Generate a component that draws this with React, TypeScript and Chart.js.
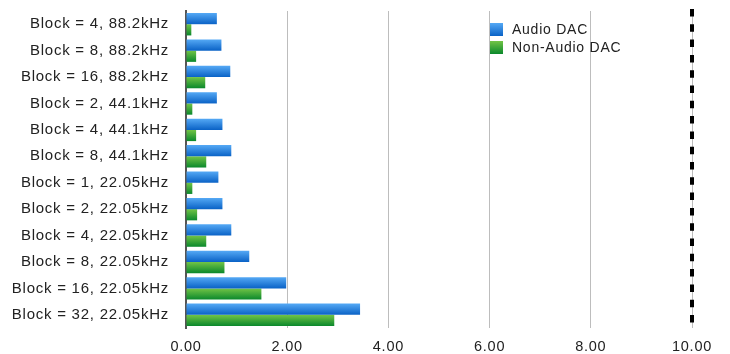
import React, { useEffect, useRef } from "react";
import { Chart, registerables } from "chart.js";

Chart.register(...registerables);

const categories = [
  "Block = 4, 88.2kHz",
  "Block = 8, 88.2kHz",
  "Block = 16, 88.2kHz",
  "Block = 2, 44.1kHz",
  "Block = 4, 44.1kHz",
  "Block = 8, 44.1kHz",
  "Block = 1, 22.05kHz",
  "Block = 2, 22.05kHz",
  "Block = 4, 22.05kHz",
  "Block = 8, 22.05kHz",
  "Block = 16, 22.05kHz",
  "Block = 32, 22.05kHz",
];
const audioDac = [0.61, 0.7, 0.875, 0.61, 0.72, 0.895, 0.64, 0.72, 0.895, 1.25, 1.98, 3.44];
const nonAudioDac = [0.105, 0.2, 0.38, 0.125, 0.2, 0.4, 0.125, 0.22, 0.4, 0.76, 1.49, 2.93];
const seriesNames = ["Audio DAC", "Non-Audio DAC"];
const xTicks = [0, 2, 4, 6, 8, 10];
const limitValue = 10;

const FONT = "'Liberation Sans', Arial, Helvetica, sans-serif";
const SPACING = "0.75px";
const CAT_PCT = 0.85;
const gradStops = [
  ["#55a9f5", "#0a62c6"],
  ["#72c446", "#0a882c"],
];

export default function App() {
  const ref = useRef<HTMLCanvasElement>(null);
  useEffect(() => {
    document.body.style.margin = "0";
    const canvas = ref.current!;
    const barGradient = (ctx: any) => {
      const chart = ctx.chart;
      const di = ctx.datasetIndex;
      const y = chart.scales?.y;
      if (!y || !isFinite(y.top) || !isFinite(y.bottom)) return gradStops[di][1];
      const c = y.getPixelForValue(ctx.dataIndex);
      const band = (y.bottom - y.top) / categories.length;
      const h = (band * CAT_PCT) / 2;
      const top = di === 0 ? c - h : c;
      if (!isFinite(top)) return gradStops[di][1];
      const g = chart.ctx.createLinearGradient(0, top, 0, top + h);
      g.addColorStop(0, gradStops[di][0]);
      g.addColorStop(1, gradStops[di][1]);
      return g;
    };

    const overlay = {
      id: "overlay",
      beforeLayout(chart: any) {
        (chart.ctx as any).letterSpacing = SPACING;
      },
      beforeDraw(chart: any) {
        (chart.ctx as any).letterSpacing = SPACING;
      },
      afterDatasetsDraw(chart: any) {
        const { ctx, chartArea, scales } = chart;
        const x = scales.x.getPixelForValue(limitValue);
        ctx.save();
        ctx.strokeStyle = "#000";
        ctx.lineWidth = 4;
        ctx.setLineDash([7.5, 7.8]);
        ctx.beginPath();
        ctx.moveTo(x, chartArea.top - 2);
        ctx.lineTo(x, chartArea.bottom);
        ctx.stroke();
        ctx.restore();
      },
      afterDraw(chart: any) {
        const { ctx } = chart;
        ctx.save();
        const bx = 490;
        const rows = [23, 41];
        seriesNames.forEach((name, i) => {
          const top = rows[i];
          const g = ctx.createLinearGradient(0, top, 0, top + 13);
          g.addColorStop(0, gradStops[i][0]);
          g.addColorStop(1, gradStops[i][1]);
          ctx.fillStyle = g;
          ctx.fillRect(bx, top, 13, 13);
          ctx.fillStyle = "#222";
          ctx.font = `14px ${FONT}`;
          ctx.textBaseline = "middle";
          ctx.textAlign = "left";
          ctx.fillText(name, 512, top + 7);
        });
        ctx.restore();
      },
    };

    const chart = new Chart(canvas, {
      type: "bar",
      data: {
        labels: categories,
        datasets: [
          { label: seriesNames[0], data: audioDac, backgroundColor: barGradient, borderWidth: 0 },
          { label: seriesNames[1], data: nonAudioDac, backgroundColor: barGradient, borderWidth: 0 },
        ],
      },
      options: {
        indexAxis: "y",
        responsive: false,
        animation: false,
        devicePixelRatio: 1,
        layout: { padding: { top: 11, right: 38, left: 0, bottom: 0 } },
        datasets: { bar: { categoryPercentage: CAT_PCT, barPercentage: 1 } },
        plugins: { legend: { display: false }, tooltip: { enabled: false } },
        scales: {
          x: {
            min: 0,
            max: 10,
            afterBuildTicks: (s: any) => {
              s.ticks = xTicks.map((v) => ({ value: v }));
            },
            afterFit: (s: any) => {
              s.height = 26;
              s.paddingLeft = 0;
            },
            ticks: {
              padding: 10,
              color: "#222",
              font: { family: FONT, size: 14.5 },
              callback: (v: any) => Number(v).toFixed(2),
            },
            grid: {
              drawTicks: false,
              lineWidth: 1,
              color: (c: any) => (c.tick && c.tick.value === 0 ? "rgba(0,0,0,0)" : "#bdbdbd"),
            },
            border: { display: false },
          },
          y: {
            afterFit: (s: any) => {
              s.width = 186;
              s.paddingTop = 0;
              s.paddingBottom = 0;
            },
            ticks: {
              padding: 17,
              color: "#222",
              font: { family: FONT, size: 15 },
            },
            grid: { display: false, drawTicks: false },
            border: { display: true, color: "#555", width: 2 },
          },
        },
      },
      plugins: [overlay],
    });
    return () => chart.destroy();
  }, []);
  return <canvas ref={ref} width={730} height={354} style={{ display: "block" }} />;
}
